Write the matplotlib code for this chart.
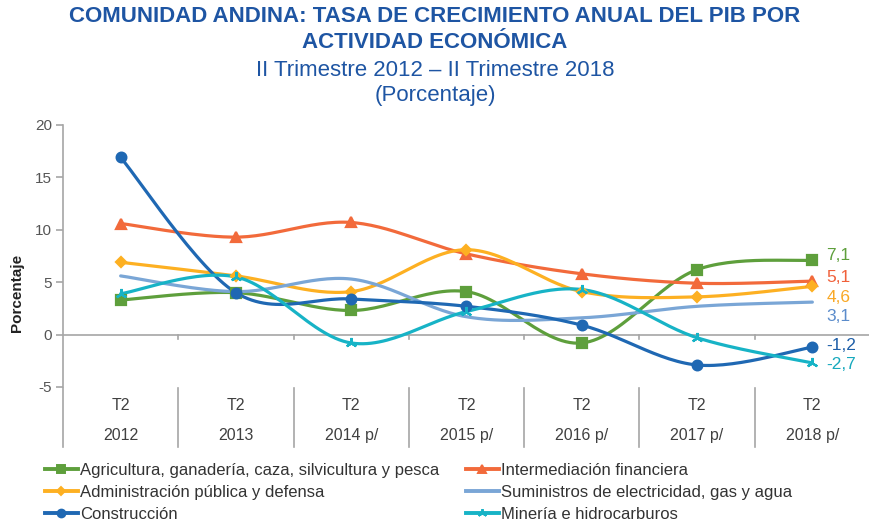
import numpy as np
import matplotlib
matplotlib.use("Agg")
import matplotlib.pyplot as plt

plt.rcParams['font.family'] = ['Liberation Sans', 'DejaVu Sans']

# ---------------- data ----------------
quarters = ["T2", "T2", "T2", "T2", "T2", "T2", "T2"]
years = ["2012", "2013", "2014 p/", "2015 p/", "2016 p/", "2017 p/", "2018 p/"]

agricultura = [3.3, 4.0, 2.3, 4.1, -0.8, 6.2, 7.1]
intermediacion = [10.6, 9.3, 10.7, 7.7, 5.8, 4.9, 5.1]
administracion = [6.9, 5.6, 4.1, 8.1, 4.1, 3.6, 4.6]
suministros = [5.6, 4.1, 5.3, 1.7, 1.6, 2.7, 3.1]
construccion = [16.9, 4.0, 3.4, 2.7, 0.9, -2.9, -1.2]
mineria = [3.9, 5.5, -0.8, 2.2, 4.3, -0.3, -2.7]

names = ["Agricultura, ganadería, caza, silvicultura y pesca",
         "Intermediación financiera",
         "Administración pública y defensa",
         "Suministros de electricidad, gas y agua",
         "Construcción",
         "Minería e hidrocarburos"]
end_labels = ["7,1", "5,1", "4,6", "3,1", "-1,2", "-2,7"]

# ---------------- style ----------------
series = [agricultura, intermediacion, administracion, suministros, construccion, mineria]
colors = ["#5e9f3c", "#f26a3b", "#fdb022", "#7aa6d6", "#1f68b3", "#17b3c6"]
label_colors = ["#5e9f3c", "#f0603a", "#f9a825", "#5b8ccb", "#1f5fa8", "#17a9bd"]
markers = ["s", "^", "D", None, "o", (3, 2, 0)]
msizes = [7, 7, 5, 0, 7, 8]
label_y = [7.5, 5.45, 3.55, 1.7, -1.05, -2.9]


def catmull(xs, ys, n=30):
    xs = np.asarray(xs, float)
    ys = np.asarray(ys, float)
    px = np.concatenate([[xs[0]], xs, [xs[-1]]])
    py = np.concatenate([[ys[0]], ys, [ys[-1]]])
    ox, oy = [], []
    t = np.linspace(0, 1, n)
    for i in range(1, len(px) - 2):
        for p, o in ((px, ox), (py, oy)):
            p0, p1, p2, p3 = p[i - 1], p[i], p[i + 1], p[i + 2]
            m1 = (p2 - p0) / 2.0
            m2 = (p3 - p1) / 2.0
            h00 = 2 * t**3 - 3 * t**2 + 1
            h10 = t**3 - 2 * t**2 + t
            h01 = -2 * t**3 + 3 * t**2
            h11 = t**3 - t**2
            o.extend(h00 * p1 + h10 * m1 + h01 * p2 + h11 * m2)
    return np.array(ox), np.array(oy)


fig = plt.figure(figsize=(8.7, 5.21), dpi=100)
ax = fig.add_axes([63 / 870, 1 - 387 / 521, 807 / 870, (387 - 125) / 521])

x = np.arange(len(years))
ax.set_xlim(-0.5, len(years) - 0.5)
ax.set_ylim(-5, 20)

gray = "#a6a6a6"
for s in ["top", "right", "bottom"]:
    ax.spines[s].set_visible(False)
ax.spines["left"].set_color(gray)
ax.spines["left"].set_linewidth(1.2)
ax.set_yticks([-5, 0, 5, 10, 15, 20])
ax.set_yticklabels(["-5", "0", "5", "10", "15", "20"])
ax.tick_params(axis="y", colors=gray, labelcolor="#555555", labelsize=11,
               length=5, width=1.2, pad=3)
ax.set_xticks([])

# zero line with category tick marks
ax.axhline(0, color=gray, lw=1.2, zorder=1)
bounds = np.arange(len(years) + 1) - 0.5
for b in bounds[1:]:
    ax.plot([b, b], [0, -0.45], color=gray, lw=1.2, clip_on=False)
for b in bounds:
    ax.plot([b, b], [-5.1, -10.7], color=gray, lw=1.2, clip_on=False)
for xi, q, yr in zip(x, quarters, years):
    ax.text(xi, -6.8, q, ha="center", va="center", fontsize=11.5,
            color="#404040", clip_on=False)
    ax.text(xi, -9.6, yr, ha="center", va="center", fontsize=11.5,
            color="#404040", clip_on=False)

handles = []
for vals, c, m, ms, nm in zip(series, colors, markers, msizes, names):
    sx, sy = catmull(x, vals)
    ax.plot(sx, sy, color=c, lw=2.3, solid_capstyle="round", zorder=3)
    if m is not None:
        ax.plot(x, vals, linestyle="none", marker=m, markersize=ms, color=c,
                markeredgecolor=c, markeredgewidth=1.6, zorder=4)
    h, = ax.plot([], [], color=c, lw=2.8, marker=m, markersize=ms * 0.8,
                 markeredgecolor=c, markeredgewidth=1.4)
    handles.append((h, nm))

for ly, lab, c in zip(label_y, end_labels, label_colors):
    ax.text(len(years) - 1 + 0.12, ly, lab, ha="left", va="center",
            fontsize=12.5, color=c, clip_on=False)

ax.set_ylabel("Porcentaje", fontsize=11, fontweight="bold", color="#222222")
ax.yaxis.set_label_coords(-0.048, 0.36)

order = [0, 2, 4, 1, 3, 5]
leg = fig.legend([handles[i][0] for i in order], [handles[i][1] for i in order],
                 ncol=2, loc="upper left", bbox_to_anchor=(38 / 870, 1 - 456 / 521),
                 frameon=False, fontsize=12, handlelength=2.0, handletextpad=0.1,
                 columnspacing=1.6, labelspacing=0.42, borderaxespad=0)
for t in leg.get_texts():
    t.set_color("#333333")

title_c = "#1e55a3"
fig.text(0.5, 1 - 17 / 521, "COMUNIDAD ANDINA: TASA DE CRECIMIENTO ANUAL DEL PIB POR",
         ha="center", va="center", fontsize=16, fontweight="bold", color=title_c)
fig.text(0.5, 1 - 42 / 521, "ACTIVIDAD ECONÓMICA", ha="center", va="center",
         fontsize=16, fontweight="bold", color=title_c)
fig.text(0.5, 1 - 70 / 521, "II Trimestre 2012 – II Trimestre 2018", ha="center",
         va="center", fontsize=16, color=title_c)
fig.text(0.5, 1 - 95 / 521, "(Porcentaje)", ha="center", va="center",
         fontsize=16, color=title_c)

fig.savefig("out.png", dpi=100)
